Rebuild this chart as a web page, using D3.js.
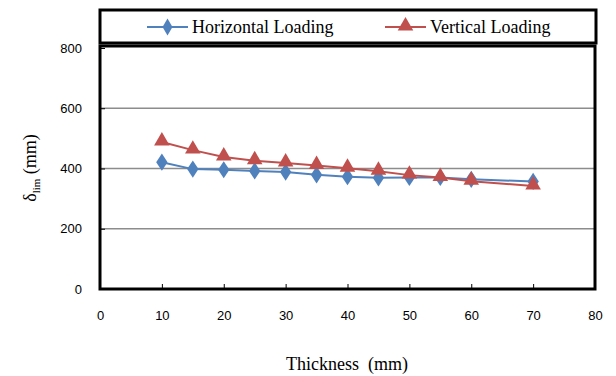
<!DOCTYPE html>
<html><head><meta charset="utf-8">
<script src="https://cdn.jsdelivr.net/npm/d3@7"></script>
<style>body{margin:0;background:#fff}svg{display:block}</style>
</head><body><svg id="c" width="616" height="376"></svg>
<script>
const thickness = [10,15,20,25,30,35,40,45,50,55,60,70];
const horizontal = [421,398,396,392,388,379,373,369,370,370,364,357];
const vertical = [488,461,438,426,418,410,401,391,378,370,358,342];
const xTicks = [0,10,20,30,40,50,60,70,80];
const yTicks = [0,200,400,600,800];
const seriesNames = ["Horizontal Loading","Vertical Loading"];

const svg = d3.select("#c");
const L=100,R=595,T=48,B=289;
const x = d3.scaleLinear().domain([0,80]).range([L,R]);
const y = d3.scaleLinear().domain([0,800]).range([B,T]);
const blue="#4F81BD", red="#C0504D";

// gridlines
svg.append("g").selectAll("line").data(yTicks.filter(d=>d>0&&d<800)).join("line")
  .attr("x1",L).attr("x2",R).attr("y1",d=>y(d)).attr("y2",d=>y(d))
  .attr("stroke","#8c8c8c").attr("stroke-width",1.5);

// axes ticks
const xa = d3.axisBottom(x).tickValues(xTicks).tickSize(-5).tickPadding(16).tickFormat(d3.format("d"));
const gx = svg.append("g").attr("transform",`translate(0,${B})`).call(xa);
gx.select(".domain").remove();
gx.selectAll("line").attr("stroke","#000").attr("stroke-width",1);
gx.selectAll("text").attr("font-family","Liberation Sans, Arial").attr("font-size",13).attr("fill","#000").attr("dy","0.71em").attr("y",22);

const ya = d3.axisLeft(y).tickValues(yTicks).tickSize(-5).tickPadding(18);
const gy = svg.append("g").attr("transform",`translate(${L},0)`).call(ya);
gy.select(".domain").remove();
gy.selectAll("line").attr("stroke","#000");
gy.selectAll("text").attr("font-family","Liberation Sans, Arial").attr("font-size",13).attr("fill","#000");

// frame
svg.append("rect").attr("x",L).attr("y",T-2).attr("width",R-L).attr("height",B-T+2)
  .attr("fill","none").attr("stroke","#000").attr("stroke-width",3);

const line = d3.line().x(d=>x(d[0])).y(d=>y(d[1]));
const hData = thickness.map((t,i)=>[t,horizontal[i]]);
const vData = thickness.map((t,i)=>[t,vertical[i]]);
const diamond = d3.symbol().type(d3.symbolDiamond).size(85);
const tri = d3.symbol().type(d3.symbolTriangle).size(105);

svg.append("path").datum(hData).attr("d",line).attr("fill","none").attr("stroke",blue).attr("stroke-width",2);
svg.append("path").datum(vData).attr("d",line).attr("fill","none").attr("stroke",red).attr("stroke-width",2);
svg.append("g").selectAll("path").data(hData).join("path").attr("d",diamond)
  .attr("transform",d=>`translate(${x(d[0])},${y(d[1])}) scale(1.15,1)`).attr("fill",blue);
svg.append("g").selectAll("path").data(vData).join("path").attr("d",tri)
  .attr("transform",d=>`translate(${x(d[0])},${y(d[1])-1})`).attr("fill",red);

// legend
svg.append("rect").attr("x",100).attr("y",10).attr("width",496).attr("height",33)
  .attr("fill","#fff").attr("stroke","#000").attr("stroke-width",3);
const leg = [{x0:147,c:blue,s:diamond,tx:192},{x0:385,c:red,s:tri,tx:430}];
leg.forEach((l,i)=>{
  svg.append("line").attr("x1",l.x0).attr("x2",l.x0+41).attr("y1",27).attr("y2",27).attr("stroke",l.c).attr("stroke-width",2);
  svg.append("path").attr("d",l.s).attr("transform",`translate(${l.x0+20.5},${i?26:27})`).attr("fill",l.c);
  svg.append("text").attr("x",l.tx).attr("y",33).text(seriesNames[i])
    .attr("font-family","Liberation Serif, Times New Roman").attr("font-size",18).attr("fill","#000");
});

// axis titles
svg.append("text").attr("x",347).attr("y",370).attr("text-anchor","middle")
  .attr("font-family","Liberation Serif, Times New Roman").attr("font-size",18).attr("xml:space","preserve").style("white-space","pre").text("Thickness  (mm)");
const yt = svg.append("text").attr("transform","translate(36,168) rotate(-90)").attr("text-anchor","middle")
  .attr("font-family","Liberation Serif, Times New Roman").attr("font-size",18);
yt.append("tspan").text("δ");
yt.append("tspan").attr("font-size",11).attr("dy",4).text("lim");
yt.append("tspan").attr("dy",-4).text(" (mm)");
</script></body></html>
